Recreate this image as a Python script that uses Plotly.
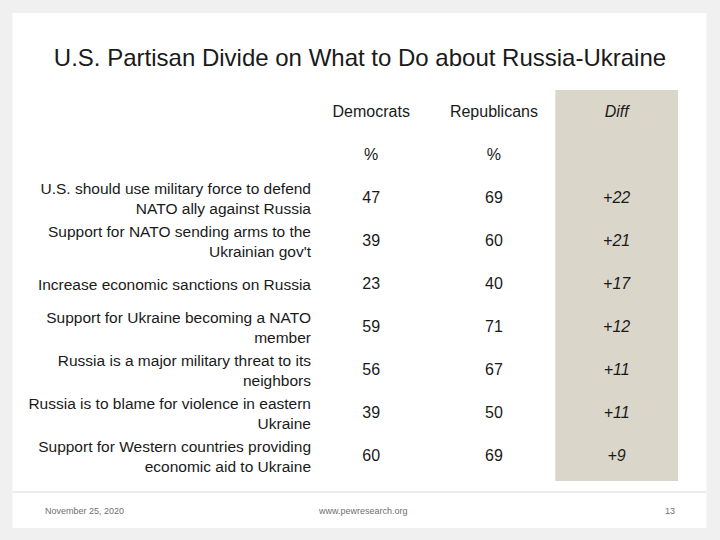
import plotly.graph_objects as go

# ---- data ----
items = [
    "U.S. should use military force to defend<br>NATO ally against Russia",
    "Support for NATO sending arms to the<br>Ukrainian gov't",
    "Increase economic sanctions on Russia",
    "Support for Ukraine becoming a NATO<br>member",
    "Russia is a major military threat to its<br>neighbors",
    "Russia is to blame for violence in eastern<br>Ukraine",
    "Support for Western countries providing<br>economic aid to Ukraine",
]
democrats = [47, 39, 23, 59, 56, 39, 60]
republicans = [69, 60, 40, 71, 67, 50, 69]
diff = [22, 21, 17, 12, 11, 11, 9]
columns = ["Democrats", "Republicans", "Diff"]
units = ["%", "%", ""]

title = "U.S. Partisan Divide on What to Do about Russia-Ukraine"
footer_date = "November 25, 2020"
footer_url = "www.pewresearch.org"
page_num = "13"

# ---- layout geometry ----
W, H = 720, 540
L, R, T, B = 316, 41.5, 90, 59
pw, ph = W - L - R, H - T - B


def xp(px):
    return (px - L) / pw


def yp(py):
    return 1 - (py - T) / ph


FONT = "Liberation Sans, Arial, sans-serif"
TXT = "#1a1a1a"
VAL_SIZE = 16

rows = list(range(len(items)))
fig = go.Figure()

# value columns
fig.add_trace(go.Scatter(x=[0] * len(rows), y=rows, mode="text",
                         text=[str(v) for v in democrats],
                         textfont=dict(family=FONT, size=VAL_SIZE, color=TXT),
                         hoverinfo="skip", showlegend=False))
fig.add_trace(go.Scatter(x=[1] * len(rows), y=rows, mode="text",
                         text=[str(v) for v in republicans],
                         textfont=dict(family=FONT, size=VAL_SIZE, color=TXT),
                         hoverinfo="skip", showlegend=False))
fig.add_trace(go.Scatter(x=[2] * len(rows), y=rows, mode="text",
                         text=[f"<i>+{v}</i>" for v in diff],
                         textfont=dict(family=FONT, size=VAL_SIZE, color=TXT),
                         hoverinfo="skip", showlegend=False))
# headers
fig.add_trace(go.Scatter(x=[0, 1, 2], y=[-2, -2, -2], mode="text",
                         text=[columns[0], columns[1], f"<i>{columns[2]}</i>"],
                         textfont=dict(family=FONT, size=VAL_SIZE, color=TXT),
                         hoverinfo="skip", showlegend=False))
fig.add_trace(go.Scatter(x=[0, 1], y=[-1, -1], mode="text",
                         text=units[:2],
                         textfont=dict(family=FONT, size=VAL_SIZE, color=TXT),
                         hoverinfo="skip", showlegend=False))

shapes = [
    # white slide
    dict(type="rect", xref="paper", yref="paper", x0=xp(12), x1=xp(707),
         y0=yp(528), y1=yp(13), fillcolor="white", line=dict(width=0), layer="below"),
    # diff column background
    dict(type="rect", xref="x", yref="paper", x0=1.5, x1=2.5, y0=0, y1=1,
         fillcolor="#dad7ca", line=dict(width=0), layer="below"),
    # footer divider
    dict(type="line", xref="paper", yref="paper", x0=xp(12), x1=xp(707),
         y0=yp(492), y1=yp(492), line=dict(color="#d9d9d9", width=1)),
]

annotations = [
    dict(text=footer_date, xref="paper", yref="paper", x=xp(43), y=yp(511),
         xanchor="left", yanchor="middle", showarrow=False,
         font=dict(family=FONT, size=9, color="#707070")),
    dict(text=footer_url, xref="paper", yref="paper", x=xp(363), y=yp(511),
         xanchor="center", yanchor="middle", showarrow=False,
         font=dict(family=FONT, size=9, color="#707070")),
    dict(text=page_num, xref="paper", yref="paper", x=xp(677), y=yp(511),
         xanchor="right", yanchor="middle", showarrow=False,
         font=dict(family=FONT, size=9, color="#707070")),
]

fig.update_layout(
    width=W, height=H,
    margin=dict(l=L, r=R, t=T, b=B, autoexpand=False),
    paper_bgcolor="#f0f0f0", plot_bgcolor="rgba(0,0,0,0)",
    title=dict(text=title, x=0.5, xref="container", xanchor="center",
               y=1 - 58 / H, yref="container", yanchor="middle",
               font=dict(family=FONT, size=24, color=TXT)),
    xaxis=dict(range=[-0.45, 2.5], showgrid=False, zeroline=False,
               showticklabels=False, fixedrange=True),
    yaxis=dict(range=[6.56, -2.53], showgrid=False, zeroline=False,
               tickvals=rows, ticktext=items, ticks="",
               ticklabelstandoff=4,
               tickfont=dict(family=FONT, size=15.5, color=TXT), fixedrange=True),
    shapes=shapes, annotations=annotations,
)

fig.write_html(
    "out.html",
    config={"displayModeBar": False, "staticPlot": True},
    post_script="document.body.style.margin='0';document.body.style.background='#f0f0f0';",
)
